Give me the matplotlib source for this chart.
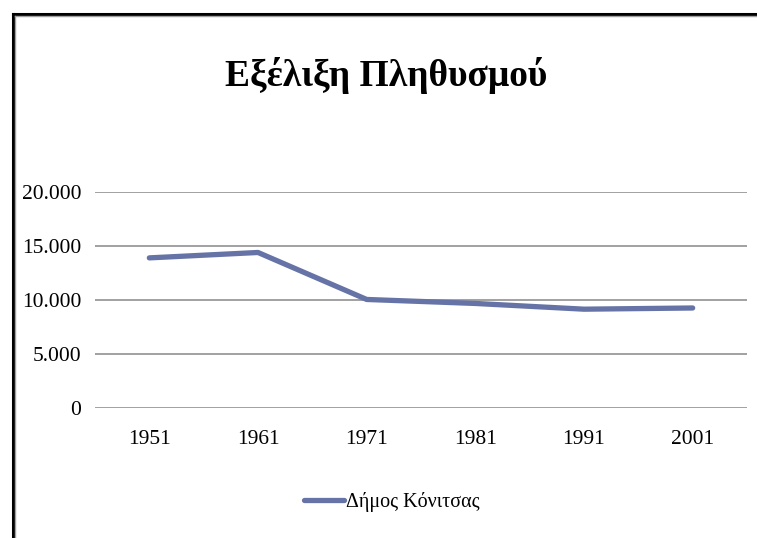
import matplotlib
matplotlib.use('Agg')
from matplotlib import pyplot as plt
from matplotlib.lines import Line2D
from matplotlib.ticker import FuncFormatter

years = ['1951', '1961', '1971', '1981', '1991', '2001']
population = [13900, 14400, 10050, 9680, 9150, 9260]
series_name = 'Δήμος Κόνιτσας'
title = 'Εξέλιξη Πληθυσμού'

plt.rcParams['font.family'] = ['Liberation Serif', 'DejaVu Serif']

W, H = 757, 538
fig = plt.figure(figsize=(W / 100, H / 100), dpi=100)
ax = fig.add_axes([95 / W, (H - 408) / H, (747 - 95) / W, (408 - 192) / H])

x = range(len(years))
ax.plot(x, population, color='#6673a6', lw=3.8, solid_capstyle='round',
        solid_joinstyle='round', label=series_name)

ax.set_xlim(-0.5, len(years) - 0.5)
ax.set_ylim(0, 20000)
ax.set_yticks([0, 5000, 10000, 15000, 20000])
ax.yaxis.set_major_formatter(FuncFormatter(lambda v, p: f'{int(v):,}'.replace(',', '.')))
ax.set_xticks(list(x))
ax.set_xticklabels(years)
ax.tick_params(length=0, labelsize=15.5)
ax.tick_params(axis='y', pad=10)
ax.tick_params(axis='x', pad=16)
for s in ax.spines.values():
    s.set_visible(False)
ax.grid(axis='y', color='#9a9a9a', lw=1.3)
ax.set_axisbelow(True)

fig.text(386 / W, 1 - 76 / H, title, ha='center', va='center',
         fontsize=27, fontweight='bold')

leg = fig.legend(loc='center', bbox_to_anchor=(392 / W, 1 - 502 / H), frameon=False,
                 fontsize=14.5, handlelength=2.0, handletextpad=0.1)

# chart frame (left and top edges)
fig.add_artist(Line2D([12.5 / W, 12.5 / W], [0, 1 - 13.5 / H], color='black', lw=2.2))
fig.add_artist(Line2D([12.5 / W, 1], [1 - 13.5 / H, 1 - 13.5 / H], color='black', lw=2.2))
fig.add_artist(Line2D([14.8 / W, 14.8 / W], [0, 1 - 15.5 / H], color='#a0a0a0', lw=1))
fig.add_artist(Line2D([14.8 / W, 1], [1 - 15.5 / H, 1 - 15.5 / H], color='#a0a0a0', lw=1))

fig.savefig('out.png', dpi=100)
